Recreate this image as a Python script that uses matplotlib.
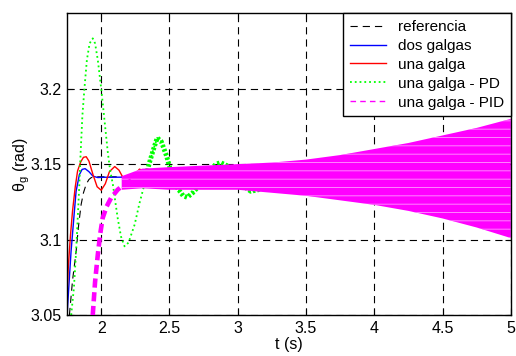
import matplotlib
matplotlib.use("Agg")
import matplotlib.pyplot as plt
import numpy as np

plt.rcParams["font.family"] = ["Liberation Sans", "DejaVu Sans"]
plt.rcParams["hatch.linewidth"] = 0.6

# reference (black dashed)
ref_t = [1.767, 1.79, 1.816, 1.835, 1.853, 1.87, 1.89, 1.91, 1.926, 1.95, 5.0]
ref_y = [3.05, 3.073, 3.092, 3.110, 3.1233, 3.131, 3.1367, 3.1398, 3.141, 3.1416, 3.1416]

# dos galgas (blue)
dos_t = [1.75, 1.765, 1.779, 1.80, 1.816, 1.84, 1.86, 1.882, 1.91, 1.94, 1.975, 2.02, 2.30]
dos_y = [3.05, 3.072, 3.092, 3.115, 3.132, 3.143, 3.1465, 3.147, 3.145, 3.142, 3.1411, 3.1413, 3.1414]

# una galga (red)
una_t = [1.75, 1.76, 1.775, 1.79, 1.81, 1.827, 1.85, 1.87, 1.89, 1.91, 1.94, 1.97, 2.0,
         2.03, 2.06, 2.099, 2.13, 2.16, 2.197, 2.24, 2.28, 2.32]
una_y = [3.065, 3.0835, 3.103, 3.119, 3.135, 3.1455, 3.1515, 3.1545, 3.1549, 3.152, 3.143, 3.135, 3.1327,
         3.137, 3.145, 3.1484, 3.146, 3.141, 3.139, 3.142, 3.1467, 3.145]

# una galga - PD (green)
pd_t = [1.78, 1.80, 1.816, 1.83, 1.84, 1.848, 1.862, 1.877, 1.895, 1.915, 1.938, 1.955, 1.975,
        2.0, 2.024, 2.048, 2.065, 2.085, 2.105, 2.121, 2.145, 2.171, 2.20, 2.245, 2.28, 2.318,
        2.35, 2.38, 2.41, 2.44, 2.48, 2.51, 2.56, 2.60, 2.63, 2.67, 2.71, 2.75, 2.80, 2.84,
        2.875, 2.92, 2.97, 3.02, 3.095, 3.15, 3.2]
pd_y = [3.05, 3.068, 3.092, 3.118, 3.137, 3.155, 3.182, 3.20, 3.219, 3.230, 3.2333, 3.230, 3.219,
        3.20, 3.179, 3.158, 3.146, 3.1367, 3.124, 3.114, 3.102, 3.0955, 3.098, 3.110, 3.124, 3.137,
        3.150, 3.159, 3.1674, 3.165, 3.155, 3.145, 3.134, 3.129, 3.128, 3.131, 3.135, 3.139, 3.146, 3.150,
        3.151, 3.149, 3.142, 3.137, 3.132, 3.133, 3.136]

# una galga - PID (magenta): initial rise, then growing oscillation band
pid_t = [1.938, 1.955, 1.975, 1.993, 2.011, 2.04, 2.073, 2.12, 2.17, 2.22]
pid_y = [3.05, 3.072, 3.090, 3.104, 3.1144, 3.122, 3.1277, 3.133, 3.1367, 3.139]
band_t = [2.15, 2.3, 2.5, 2.75, 3.0, 3.25, 3.5, 3.75, 4.0, 4.25, 4.5, 4.75, 5.0]
band_hi = [3.142, 3.147, 3.148, 3.149, 3.150, 3.151, 3.153, 3.156, 3.160, 3.164, 3.169, 3.174, 3.180]
band_lo = [3.133, 3.134, 3.133, 3.133, 3.133, 3.131, 3.129, 3.126, 3.123, 3.119, 3.114, 3.108, 3.101]

xticks = [2, 2.5, 3, 3.5, 4, 4.5, 5]
xticklabels = ["2", "2.5", "3", "3.5", "4", "4.5", "5"]
yticks = [3.05, 3.1, 3.15, 3.2]
yticklabels = ["3.05", "3.1", "3.15", "3.2"]

fig = plt.figure(figsize=(5.16, 3.56), dpi=100)
ax = fig.add_axes([0.130, 0.115, 0.860, 0.848])

dash = (0, (6.5, 4.5))
ax.plot(ref_t, ref_y, color="black", lw=0.8, linestyle=dash, label="referencia")
ax.plot(dos_t, dos_y, color="#0000ff", lw=1.0, label="dos galgas")
ax.plot(una_t, una_y, color="#ff0000", lw=1.0, label="una galga")

pd_t_arr = np.array(pd_t)
pd_y_arr = np.array(pd_y)
ax.plot(pd_t, pd_y, color="#00ff00", lw=1.3, linestyle=":", label="una galga - PD")
late = pd_t_arr >= 2.3
ax.plot(pd_t_arr[late], pd_y_arr[late], color="#00ff00", lw=3.5, linestyle=(0, (0.5, 0.4)))

ax.fill_between(band_t, band_lo, band_hi, facecolor="#ff00ff", edgecolor="#ff9cff",
                hatch="--", lw=0, zorder=2.5)
ax.plot(pid_t, pid_y, color="#ff00ff", lw=3.3, linestyle=(0, (2.0, 1.0)), zorder=2.6)
ax.plot([], [], color="#ff00ff", lw=1.0, linestyle=(0, (4, 3)), label="una galga - PID")

ax.set_xlim(1.75, 5)
ax.set_ylim(3.05, 3.25)
ax.set_xticks(xticks)
ax.set_xticklabels(xticklabels)
ax.set_yticks(yticks)
ax.set_yticklabels(yticklabels)
ax.tick_params(direction="in", length=4, labelsize=11.5, top=True, right=True, pad=4)
ax.grid(True, color="black", lw=0.8, linestyle=dash)
ax.set_axisbelow(True)
for s in ax.spines.values():
    s.set_linewidth(1.0)

ax.set_xlabel("t (s)", fontsize=11.5, labelpad=1)
ax.set_ylabel(r"$\mathregular{\theta_g}$ (rad)", fontsize=11.5, labelpad=-1.5)

handles, labels = ax.get_legend_handles_labels()
leg = ax.legend(handles, labels, loc="upper right", fontsize=11, fancybox=False,
                framealpha=1, edgecolor="black", borderaxespad=0, borderpad=0.45,
                labelspacing=0.32, handlelength=2.35, handletextpad=0.8)
leg.get_frame().set_linewidth(1.0)
leg.set_zorder(5)

fig.savefig("out.png", dpi=100)
